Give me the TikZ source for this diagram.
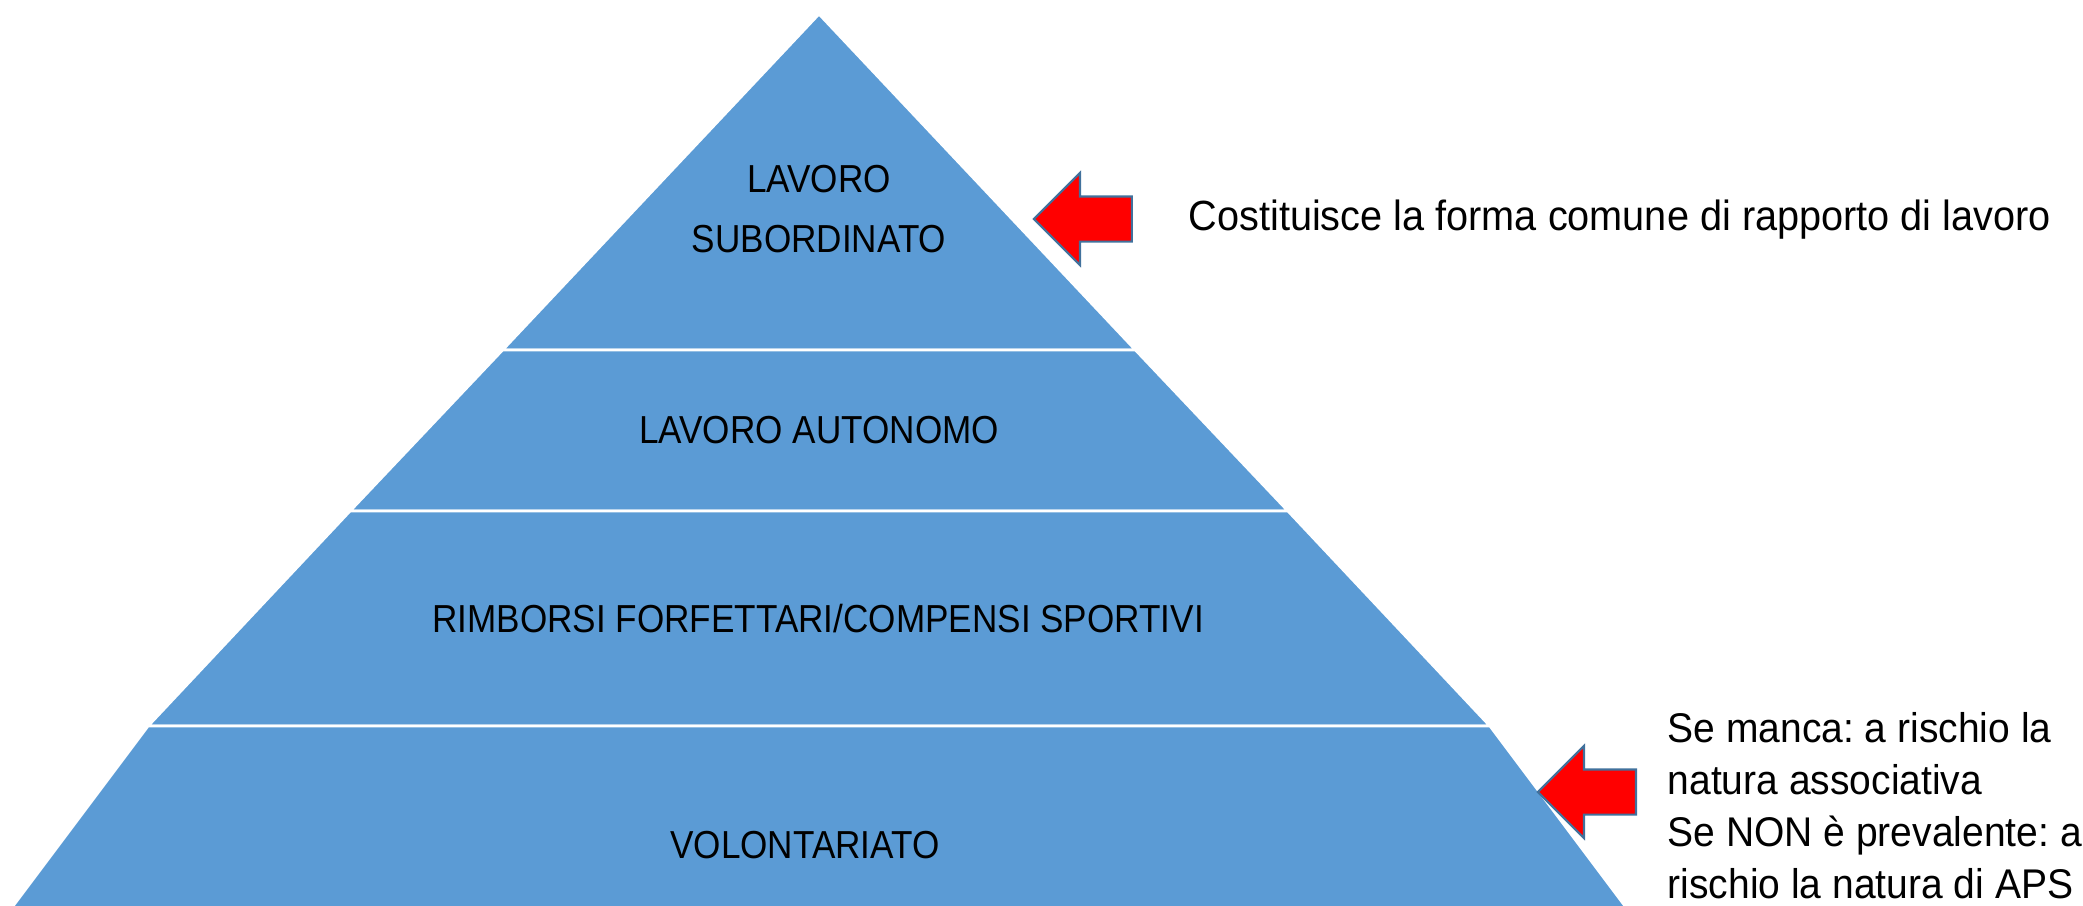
\documentclass[tikz,border=0pt]{standalone}
\usepackage{fontspec}
\setmainfont[FakeStretch=0.94]{Liberation Sans}
\newfontfamily\pyrfont[FakeStretch=0.9]{Liberation Sans}
\usetikzlibrary{positioning,shapes.arrows}
\definecolor{pyrblue}{HTML}{5B9BD5}
\definecolor{arrowred}{HTML}{FF0000}
\definecolor{arrowedge}{HTML}{41719C}
\frenchspacing

\begin{document}
\begin{tikzpicture}[x=0.01cm, y=-0.01cm,
  band/.style={fill=pyrblue, draw=white, line width=0.8pt},
  pointer/.style={single arrow, shape border rotate=180, fill=arrowred, draw=arrowedge, line width=0.6pt,
    minimum height=0.98cm, minimum width=0.9cm, single arrow head extend=0.235cm,
    inner xsep=0pt, inner ysep=0.215cm},
  level/.style={inner sep=0pt, font=\pyrfont\fontsize{11.1}{17}\selectfont, align=center},
  note/.style={inner sep=0pt, font=\fontsize{12}{14.8}\selectfont, align=left}]
\useasboundingbox (0,0) rectangle (2083,905);

% Bands of the pyramid
\draw[band] (819,14) -- (1135.5,350) -- (502.5,350) -- cycle;
\draw[band] (502.5,350) -- (1135.5,350) -- (1288,511) -- (350,511) -- cycle;
\draw[band] (350,511) -- (1288,511) -- (1490,726) -- (148,726) -- cycle;
\draw[band] (148,726) -- (1490,726) -- (1628,910) -- (10,910) -- cycle;

% Texts in the pyramid
\node (subordinato)  [level]              at (819,209) {LAVORO\\SUBORDINATO};
\node (autonomo)     [level, anchor=base] at (819,443) {LAVORO AUTONOMO};
\node (rimborsi)     [level, anchor=base] at (818,632) {RIMBORSI FORFETTARI/COMPENSI SPORTIVI};
\node (volontariato) [level, anchor=base] at (805,858) {VOLONTARIATO};

% Notes on the right
\node (comune)  [note, anchor=base west]  at (1188,230) {Costituisce la forma comune di rapporto di lavoro};
\node (rischio) [note, font=\fontsize{11.8}{14.8}\selectfont, anchor=north west] at (1667,712) {Se manca: a rischio la\\natura associativa\\Se NON è prevalente: a\\rischio la natura di APS};

% Red arrows
\node (arrowComune)  [pointer, left=0.55cm of comune.west] {};
\node (arrowRischio) [pointer, left=0.3cm of rischio.west, yshift=0.14cm] {};

\end{tikzpicture}
\end{document}
